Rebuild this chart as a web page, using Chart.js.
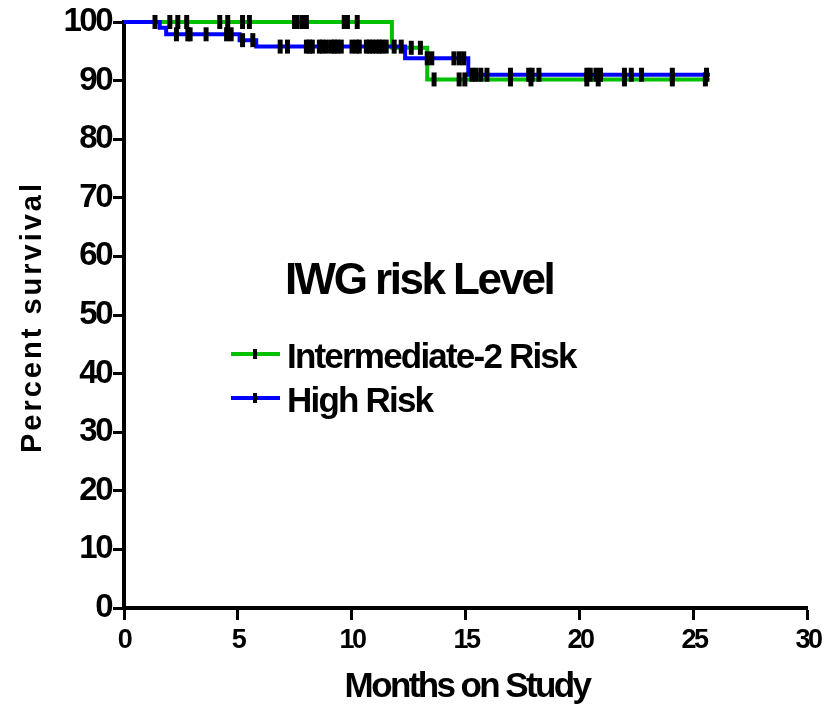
<!DOCTYPE html>
<html>
<head>
<meta charset="utf-8">
<script src="https://cdn.jsdelivr.net/npm/chart.js@4.4.1/dist/chart.umd.min.js"></script>
<style>
  html, body { margin: 0; padding: 0; background: #fff; }
  #wrap { width: 827px; height: 705px; }
</style>
</head>
<body>
<div id="wrap"><canvas id="km"></canvas></div>
<script>
// series names
const seriesNames = ['Intermediate-2 Risk', 'High Risk'];
const legendTitle = 'IWG risk Level';

// Kaplan-Meier steps (months, percent survival)
const greenTimes = [0, 11.75, 13.3, 25.7];
const greenSurv  = [100, 95.6, 90.2, 90.2];
const blueTimes  = [0, 1.57, 1.85, 5.07, 5.8, 12.33, 15.1, 25.7];
const blueSurv   = [100, 99.0, 97.9, 96.9, 95.8, 93.8, 91.0, 91.0];

// censored observations (months)
const greenCensor = [1.36, 2.01, 2.36, 2.75, 4.2, 4.55, 5.2, 5.5, 7.48, 7.6, 7.83, 8.0,
  9.66, 9.8, 10.23, 12.6, 13.0, 13.6, 14.7, 14.95, 16.95, 17.85, 20.3, 20.8, 21.95, 24.05, 25.5];
const blueCensor = [2.3, 2.8, 2.9, 3.6, 4.5, 4.7, 5.2, 5.65, 6.85, 7.17, 8.0, 8.13, 8.26,
  8.57, 8.7, 8.88, 9.1, 9.23, 9.36, 9.53, 10.0, 10.19, 10.32, 10.63, 10.76, 10.9, 11.06,
  11.2, 11.32, 11.5, 11.85, 12.16, 13.3, 13.5, 14.47, 14.7, 14.9, 15.26, 15.43, 15.65,
  15.92, 16.95, 17.75, 17.9, 18.2, 20.3, 20.45, 20.7, 20.9, 21.95, 22.25, 22.7, 24.05, 25.55];

// axis ticks
const xTicks = [0, 5, 10, 15, 20, 25, 30];
const yTicks = [0, 10, 20, 30, 40, 50, 60, 70, 80, 90, 100];

const GREEN = '#00c000';
const BLUE = '#0000ff';
const FONT = '"Liberation Sans", Arial, sans-serif';

function survivalAt(times, surv, t) {
  let v = surv[0];
  for (let i = 0; i < times.length; i++) {
    if (times[i] <= t) v = surv[i];
  }
  return v;
}

const toPts = (times, surv) => times.map((t, i) => ({ x: t, y: surv[i] }));
const censorPts = (list, times, surv) => list.map(t => ({ x: t, y: survivalAt(times, surv, t) }));

const tickMark = {
  type: 'scatter',
  showLine: false,
  pointStyle: 'line',
  rotation: 90,
  pointRadius: 7,
  pointHoverRadius: 7,
  pointBorderWidth: 5,
  borderColor: '#000',
  pointBorderColor: '#000',
  backgroundColor: '#000',
  clip: false,
  order: 0
};

// condensed look for the tick labels
const squeezePlugin = {
  id: 'squeeze',
  beforeDraw(chart) {
    chart.ctx.letterSpacing = '-2.5px';
  }
};

// text drawing: legend inside plot + axis titles
const textPlugin = {
  id: 'texts',
  afterDraw(chart) {
    const ctx = chart.ctx;
    ctx.save();
    ctx.fillStyle = '#000';
    ctx.textBaseline = 'alphabetic';

    // legend title
    ctx.font = 'bold 44px ' + FONT;
    ctx.letterSpacing = '-2.5px';
    ctx.textAlign = 'center';
    ctx.fillText(legendTitle, 419, 294);

    // legend entries
    const colors = [GREEN, BLUE];
    const rows = [354, 398];
    ctx.textAlign = 'left';
    ctx.font = 'bold 35px ' + FONT;
    ctx.letterSpacing = '-1.8px';
    seriesNames.forEach((name, i) => {
      const y = rows[i];
      ctx.strokeStyle = colors[i];
      ctx.lineWidth = 4;
      ctx.beginPath();
      ctx.moveTo(231, y);
      ctx.lineTo(280, y);
      ctx.stroke();
      ctx.strokeStyle = '#000';
      ctx.lineWidth = 4;
      ctx.beginPath();
      ctx.moveTo(255, y - 5);
      ctx.lineTo(255, y + 5);
      ctx.stroke();
      ctx.fillText(name, 287, y + 14);
    });

    // x title
    ctx.font = 'bold 35px ' + FONT;
    ctx.letterSpacing = '-2.6px';
    ctx.textAlign = 'center';
    ctx.fillText('Months on Study', 467, 697);

    // y title
    ctx.translate(33, 317);
    ctx.rotate(-Math.PI / 2);
    ctx.font = 'bold 29px ' + FONT;
    ctx.letterSpacing = '3px';
    ctx.textBaseline = 'middle';
    ctx.fillText('Percent survival', 0, 0);
    ctx.restore();
  }
};

new Chart(document.getElementById('km'), {
  type: 'line',
  data: {
    datasets: [
      Object.assign({}, tickMark, { data: censorPts(blueCensor, blueTimes, blueSurv) }),
      Object.assign({}, tickMark, { data: censorPts(greenCensor, greenTimes, greenSurv) }),
      {
        label: seriesNames[1],
        data: toPts(blueTimes, blueSurv),
        stepped: true,
        borderColor: BLUE,
        borderWidth: 4,
        pointRadius: 0,
        fill: false,
        clip: false,
        order: 1
      },
      {
        label: seriesNames[0],
        data: toPts(greenTimes, greenSurv),
        stepped: true,
        borderColor: GREEN,
        borderWidth: 4,
        pointRadius: 0,
        fill: false,
        clip: false,
        order: 2
      }
    ]
  },
  options: {
    responsive: true,
    maintainAspectRatio: false,
    animation: false,
    events: [],
    layout: { padding: { top: 22, right: 17, left: 0, bottom: 0 } },
    plugins: { legend: { display: false }, tooltip: { enabled: false } },
    scales: {
      x: {
        type: 'linear',
        min: 0,
        max: 30,
        afterFit: s => { s.height = 97; },
        afterBuildTicks: s => { s.ticks = xTicks.map(v => ({ value: v })); },
        border: { color: '#000', width: 4 },
        grid: { drawOnChartArea: false, color: '#000', tickColor: '#000', tickWidth: 3, tickLength: 12 },
        ticks: { color: '#000', font: { family: FONT, size: 27, weight: 'bold' }, padding: 4, maxRotation: 0 }
      },
      y: {
        type: 'linear',
        min: 0,
        max: 100,
        afterFit: s => { s.width = 124; },
        afterBuildTicks: s => { s.ticks = yTicks.map(v => ({ value: v })); },
        border: { color: '#000', width: 4 },
        grid: { drawOnChartArea: false, color: '#000', tickColor: '#000', tickWidth: 3, tickLength: 11 },
        ticks: { color: '#000', font: { family: FONT, size: 33, weight: 'bold' }, padding: 2 }
      }
    }
  },
  plugins: [squeezePlugin, textPlugin]
});
</script>
</body>
</html>
